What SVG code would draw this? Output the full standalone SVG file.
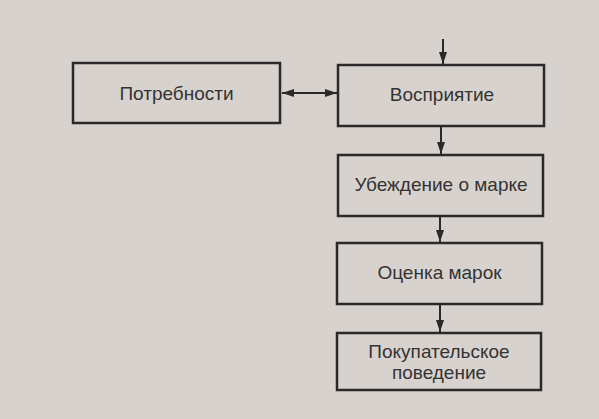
<svg xmlns="http://www.w3.org/2000/svg" width="599" height="419" viewBox="0 0 599 419">
<style>
.box{fill:none;stroke:#2a2a2a;stroke-width:2.5}
.lbl{font-family:"Liberation Sans",Arial,sans-serif;font-size:19px;fill:#333;text-anchor:middle}
.ln{stroke:#2a2a2a;stroke-width:2;fill:none}
</style>
<defs>
<marker id="ah" viewBox="0 0 12 10" refX="12" refY="5" markerWidth="6" markerHeight="5" orient="auto-start-reverse" markerUnits="strokeWidth">
<path d="M0,1 L12,5 L0,9 Z" fill="#2a2a2a"/>
</marker>
</defs>
<rect width="599" height="419" fill="#d8d2ce"/>
<g id="connectors">
<line class="ln" x1="443" y1="39" x2="443" y2="64" marker-end="url(#ah)"/>
<line class="ln" x1="282" y1="93" x2="337" y2="93" marker-start="url(#ah)" marker-end="url(#ah)"/>
<line class="ln" x1="441" y1="127" x2="441" y2="154" marker-end="url(#ah)"/>
<line class="ln" x1="440" y1="217" x2="440" y2="242" marker-end="url(#ah)"/>
<line class="ln" x1="440" y1="305" x2="440" y2="332" marker-end="url(#ah)"/>
</g>
<g id="n1"><rect class="box" x="73" y="63" width="207" height="60"/><text class="lbl" x="176.5" y="100">Потребности</text></g>
<g id="n2"><rect class="box" x="338" y="65" width="206" height="61"/><text class="lbl" x="442" y="101">Восприятие</text></g>
<g id="n3"><rect class="box" x="338" y="155" width="205" height="61"/><text class="lbl" x="441" y="191">Убеждение о марке</text></g>
<g id="n4"><rect class="box" x="337" y="243" width="205" height="61"/><text class="lbl" x="439.5" y="279">Оценка марок</text></g>
<g id="n5"><rect class="box" x="337" y="333" width="204" height="57"/><text class="lbl" x="439" y="358">Покупательское</text><text class="lbl" x="439" y="379">поведение</text></g>
</svg>
